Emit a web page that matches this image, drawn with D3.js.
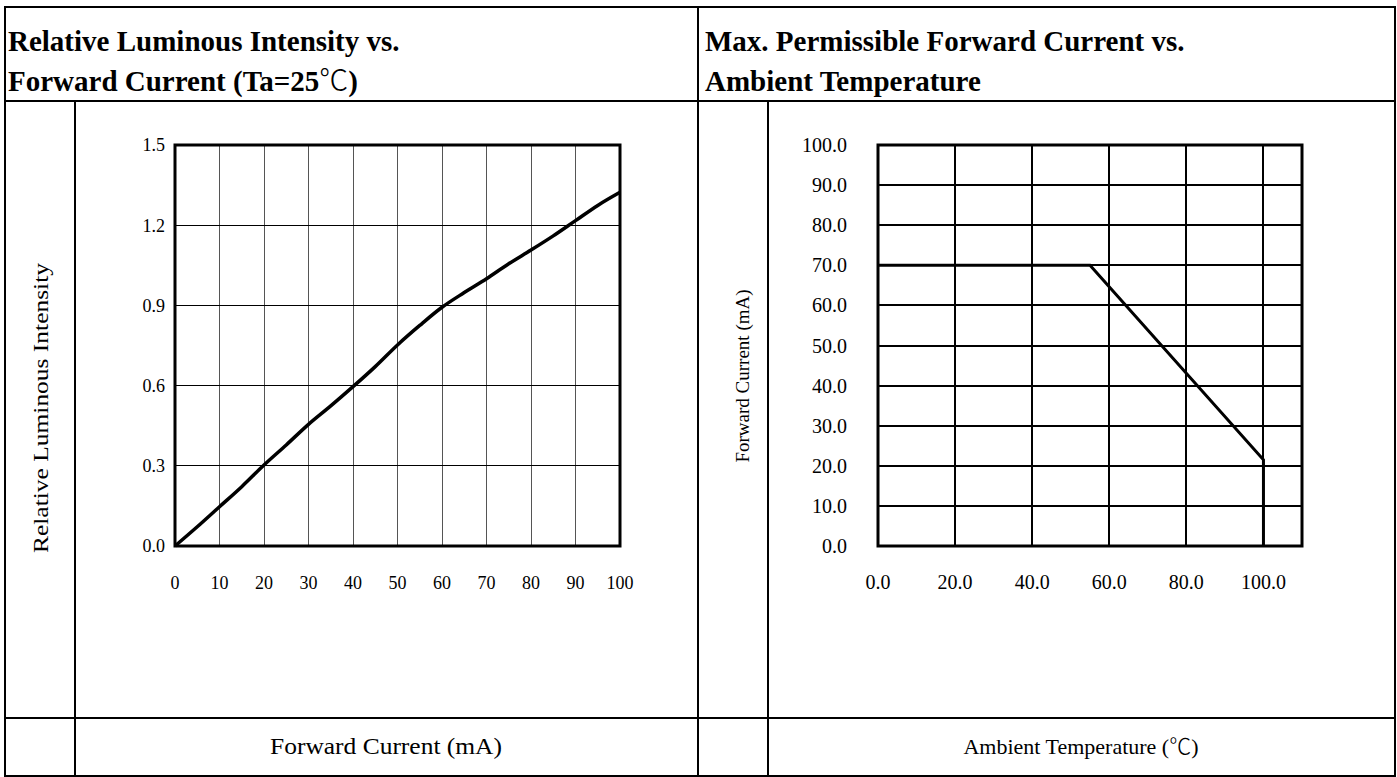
<!DOCTYPE html>
<html>
<head>
<meta charset="utf-8">
<script src="https://cdn.jsdelivr.net/npm/d3@7"></script>
<style>
  body { margin: 0; background: #fff; }
  svg { display: block; }
  text { font-family: "Liberation Serif", "Times New Roman", serif; fill: #000; }
  .cjk { font-family: "Noto Sans CJK SC", "Noto Sans CJK JP", sans-serif; font-weight: 300; }
</style>
</head>
<body>
<svg id="sheet" width="1397" height="777"></svg>
<script>
// Relative luminous intensity vs. forward current (Ta = 25 °C)
const ivCurrent   = [0, 5, 10, 15, 20, 25, 30, 35, 40, 45, 50, 55, 60, 65, 70, 75, 80, 85, 90, 95, 100];
const ivIntensity = [0, 0.072, 0.147, 0.222, 0.303, 0.378, 0.455, 0.524, 0.596, 0.671, 0.752,
                     0.825, 0.893, 0.948, 1.0, 1.056, 1.107, 1.160, 1.217, 1.274, 1.323];
const ivXTicks = [0, 10, 20, 30, 40, 50, 60, 70, 80, 90, 100];
const ivYTicks = [0, 0.3, 0.6, 0.9, 1.2, 1.5];

// Max. permissible forward current vs. ambient temperature (derating)
const deratingTemp    = [0, 55, 100, 100];
const deratingCurrent = [70, 70, 21.5, 0];
const tempTicks    = [0, 20, 40, 60, 80, 100];
const tempGrid     = [0, 20, 40, 60, 80, 100, 110];
const ifTicks      = [0, 10, 20, 30, 40, 50, 60, 70, 80, 90, 100];

const svg = d3.select("#sheet");

// ---------- table frame ----------
const table = svg.append("g").attr("stroke", "#000").attr("fill", "none")
  .attr("shape-rendering", "crispEdges");
table.append("rect").attr("x", 5).attr("y", 7).attr("width", 1390).attr("height", 769)
  .attr("stroke-width", 2);
table.append("line").attr("x1", 5).attr("x2", 1395).attr("y1", 101).attr("y2", 101).attr("stroke-width", 2);
table.append("line").attr("x1", 5).attr("x2", 1395).attr("y1", 718).attr("y2", 718).attr("stroke-width", 2);
table.append("line").attr("x1", 698).attr("x2", 698).attr("y1", 7).attr("y2", 776).attr("stroke-width", 2);
table.append("line").attr("x1", 75).attr("x2", 75).attr("y1", 101).attr("y2", 776).attr("stroke-width", 2);
table.append("line").attr("x1", 768).attr("x2", 768).attr("y1", 101).attr("y2", 776).attr("stroke-width", 2);

// text helper: plain string, with the degree-Celsius sign set in a CJK face
function label(sel, str) {
  const parts = str.split("\u2103");
  parts.forEach((p, i) => {
    sel.append("tspan").text(p);
    if (i < parts.length - 1) sel.append("tspan").attr("class", "cjk").text("\u2103");
  });
  return sel;
}

// ---------- headings ----------
function heading(x, y, str) {
  label(svg.append("text").attr("x", x).attr("y", y)
    .attr("font-size", 29).attr("font-weight", "bold"), str);
}
heading(8, 51, "Relative Luminous Intensity vs.");
heading(8, 91, "Forward Current (Ta=25\u2103)");
heading(705, 51, "Max. Permissible Forward Current vs.");
heading(705, 91, "Ambient Temperature");

// ---------- chart 1: luminous intensity ----------
const x1 = d3.scaleLinear().domain([0, 100]).range([175, 620]);
const y1 = d3.scaleLinear().domain([0, 1.5]).range([546, 145]);
const g1 = svg.append("g");

g1.append("g").attr("shape-rendering", "crispEdges")
  .selectAll("line").data(ivXTicks.slice(1, -1)).join("line")
  .attr("x1", d => x1(d)).attr("x2", d => x1(d))
  .attr("y1", y1(0)).attr("y2", y1(1.5))
  .attr("stroke", "#555").attr("stroke-width", 1);
g1.append("g").attr("shape-rendering", "crispEdges")
  .selectAll("line").data(ivYTicks.slice(1, -1)).join("line")
  .attr("x1", x1(0)).attr("x2", x1(100))
  .attr("y1", d => y1(d)).attr("y2", d => y1(d))
  .attr("stroke", "#000").attr("stroke-width", 1);

g1.append("rect").attr("x", x1(0)).attr("y", y1(1.5))
  .attr("width", x1(100) - x1(0)).attr("height", y1(0) - y1(1.5))
  .attr("fill", "none").attr("stroke", "#000").attr("stroke-width", 3);

g1.append("path")
  .datum(d3.zip(ivCurrent, ivIntensity))
  .attr("fill", "none").attr("stroke", "#000").attr("stroke-width", 3.5)
  .attr("stroke-linejoin", "round")
  .attr("d", d3.line().curve(d3.curveMonotoneX).x(d => x1(d[0])).y(d => y1(d[1])));

g1.selectAll("text.ytick").data(ivYTicks).join("text").attr("class", "ytick")
  .attr("x", 165).attr("y", d => y1(d)).attr("dy", "0.35em")
  .attr("text-anchor", "end").attr("font-size", 18)
  .text(d => d3.format(".1f")(d));
g1.selectAll("text.xtick").data(ivXTicks).join("text").attr("class", "xtick")
  .attr("x", d => x1(d)).attr("y", 589)
  .attr("text-anchor", "middle").attr("font-size", 18)
  .text(d => d);

svg.append("text").attr("transform", "translate(48,408) rotate(-90)")
  .attr("text-anchor", "middle").attr("font-size", 22)
  .attr("textLength", 290).attr("lengthAdjust", "spacingAndGlyphs")
  .text("Relative Luminous Intensity");
svg.append("text").attr("x", 386).attr("y", 754)
  .attr("text-anchor", "middle").attr("font-size", 23)
  .attr("textLength", 232).attr("lengthAdjust", "spacingAndGlyphs")
  .text("Forward Current (mA)");

// ---------- chart 2: derating ----------
const x2 = d3.scaleLinear().domain([0, 110]).range([878, 1302]);
const y2 = d3.scaleLinear().domain([0, 100]).range([546, 145]);
const g2 = svg.append("g");

g2.append("g").attr("shape-rendering", "crispEdges")
  .selectAll("line").data(tempGrid.slice(1, -1)).join("line")
  .attr("x1", d => x2(d)).attr("x2", d => x2(d))
  .attr("y1", y2(0)).attr("y2", y2(100))
  .attr("stroke", "#000").attr("stroke-width", 2);
g2.append("g").attr("shape-rendering", "crispEdges")
  .selectAll("line").data(ifTicks.slice(1, -1)).join("line")
  .attr("x1", x2(0)).attr("x2", x2(110))
  .attr("y1", d => y2(d)).attr("y2", d => y2(d))
  .attr("stroke", "#000").attr("stroke-width", 2);

g2.append("rect").attr("x", x2(0)).attr("y", y2(100))
  .attr("width", x2(110) - x2(0)).attr("height", y2(0) - y2(100))
  .attr("fill", "none").attr("stroke", "#000").attr("stroke-width", 3);

g2.append("path")
  .datum(d3.zip(deratingTemp, deratingCurrent))
  .attr("fill", "none").attr("stroke", "#000").attr("stroke-width", 3)
  .attr("d", d3.line().x(d => x2(d[0])).y(d => y2(d[1])));

g2.selectAll("text.ytick").data(ifTicks).join("text").attr("class", "ytick")
  .attr("x", 847).attr("y", d => y2(d)).attr("dy", "0.35em")
  .attr("text-anchor", "end").attr("font-size", 20)
  .text(d => d3.format(".1f")(d));
g2.selectAll("text.xtick").data(tempTicks).join("text").attr("class", "xtick")
  .attr("x", d => x2(d)).attr("y", 589)
  .attr("text-anchor", "middle").attr("font-size", 20)
  .text(d => d3.format(".1f")(d));

svg.append("text").attr("transform", "translate(749,376) rotate(-90)")
  .attr("text-anchor", "middle").attr("font-size", 19)
  .text("Forward Current (mA)");
label(svg.append("text").attr("x", 1081).attr("y", 754)
  .attr("text-anchor", "middle").attr("font-size", 22), "Ambient Temperature (\u2103)");
</script>
</body>
</html>
